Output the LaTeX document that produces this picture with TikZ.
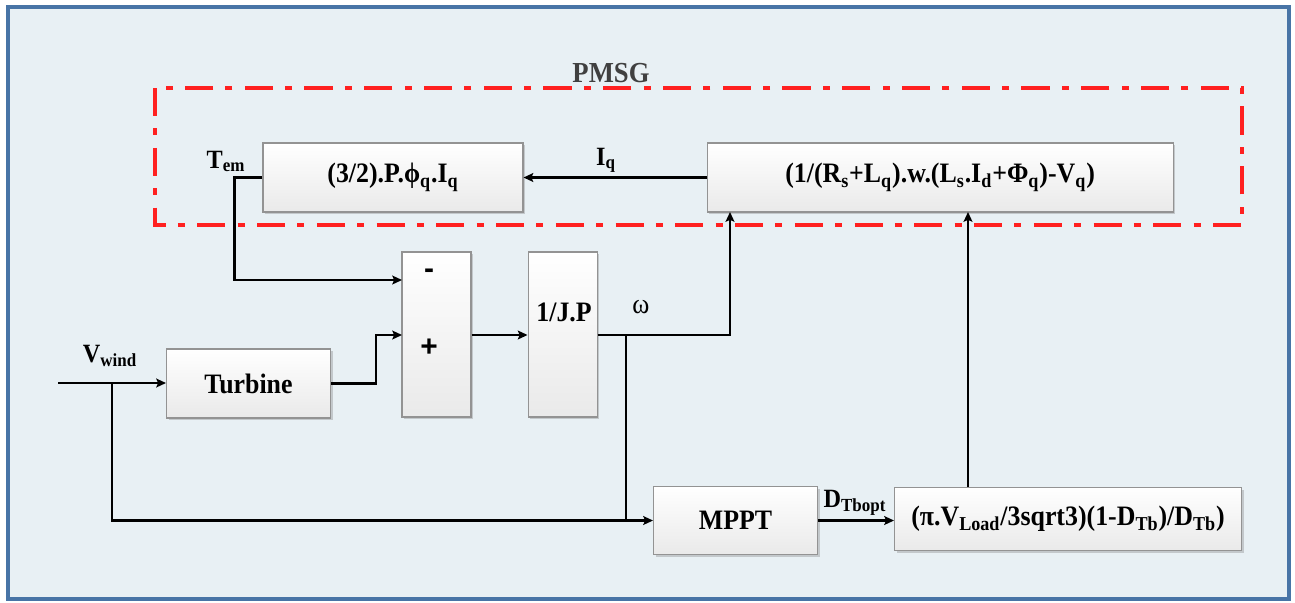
\documentclass[tikz,border=0pt]{standalone}
\usepackage{fontspec}
\setmainfont{Liberation Serif}[FakeStretch=0.92]
\newfontfamily\signfont{Liberation Sans}
\usetikzlibrary{positioning, arrows.meta, calc, shadows}
\definecolor{bgblue}{RGB}{232,240,244}
\definecolor{frameblue}{RGB}{72,116,166}
\definecolor{pmsgred}{RGB}{255,32,32}
\newcommand{\sbs}[1]{\textsubscript{#1}}
\tikzset{
  blk/.style   = {draw=gray!85, line width=0.6pt, top color=white, bottom color=gray!17,
                  inner sep=2pt, font=\fontsize{16}{18}\selectfont\bfseries,
                  drop shadow={shadow xshift=1.2pt, shadow yshift=-1.2pt, opacity=0.35}},
  ar/.style    = {-{Stealth[length=5.5pt, width=5pt, inset=1pt]}, line width=1.35pt},
  ln/.style    = {line width=1.35pt},
  lbl/.style   = {font=\fontsize{15}{17}\selectfont\bfseries, inner sep=0pt},
  sgn/.style   = {font=\fontsize{17}{19}\selectfont\signfont\bfseries, inner sep=0pt},
  pmsgbox/.style = {draw=pmsgred, line width=1.9pt,
                  dash pattern=on 16pt off 7pt on 4pt off 7pt},
}

\begin{document}
\begin{tikzpicture}[x=0.2mm, y=-0.2mm]
  \useasboundingbox (0,0) rectangle (1295,602);
  \draw[frameblue, line width=2pt, fill=bgblue] (8,7) rectangle (1289,599);
  \draw[pmsgbox] (155,88) rectangle (1242,225);
  \node[lbl, font=\fontsize{16.5}{18}\selectfont\bfseries, text=black!75, anchor=base] (pmsg) at (611,82) {PMSG};

  \node[blk, minimum width=52mm, minimum height=13.8mm] (tq) at (393,177.5)
    {(3/2).P.ϕ\sbs{q}.I\sbs{q}};
  \node[blk, minimum width=93.2mm, minimum height=13.8mm, right=36.6mm of tq] (iq)
    {(1/(R\sbs{s}+L\sbs{q}).w.(L\sbs{s}.I\sbs{d}+Φ\sbs{q})-V\sbs{q})};
  \node[blk, minimum width=13.8mm, minimum height=33mm] (sum) at (436.5,334.5) {};
  \node[blk, minimum width=13.8mm, minimum height=33mm, right=11.2mm of sum] (jp) {};
  \node[sgn] (minus) at ($(sum.north)+(-7.5,22)$) {-};
  \node[sgn] (plus)  at ($(sum.north)+(-7.5,96)$) {+};
  \node[lbl, font=\fontsize{16}{18}\selectfont\bfseries] (jptxt) at ($(jp.north)+(1.5,61)$) {1/J.P};
  \node[blk, minimum width=32.8mm, minimum height=13.8mm] (turb) at (248.5,383.5) {Turbine};
  \node[blk, minimum width=32.8mm, minimum height=13.6mm] (mppt) at (735.5,520.5) {MPPT};
  \node[blk, minimum width=69.4mm, minimum height=12.6mm] (dvc) at (1068,519)
    {(π.V\sbs{Load}/3sqrt3)(1-D\sbs{Tb})/D\sbs{Tb})};

  \node[lbl, anchor=base] (tem) at (226,168) {T\sbs{em}};
  \node[lbl, anchor=base] (iqlbl) at (606,165) {I\sbs{q}};
  \node[lbl, anchor=base] (vwind) at (110,362) {V\sbs{wind}};
  \node[lbl, font=\fontsize{16}{18}\selectfont, anchor=base] (omega) at (641,313) {ω};
  \node[lbl, anchor=base] (dopt) at (855,507) {D\sbs{Tbopt}};

  \coordinate (inM)  at (402,280);
  \coordinate (inP)  at (402,335);
  \coordinate (inB1) at (730,212);
  \coordinate (inB2) at (968,212);
  \coordinate (wtap) at (626,335);
  \coordinate (vin)  at (58,383);
  \coordinate (vtap) at (112,383);

  \draw[ar] (iq.west) -- (tq.east);
  \draw[ar] (tq.west) -- ++(-28,0) |- (inM);
  \draw[ar] (turb.east) -- ++(45,0) |- (inP);
  \draw[ar] (sum.east |- inP) -- (jp.west |- inP);
  \draw[ar] (jp.east |- inP) -| (inB1);
  \draw[ar] (vin) -- (turb.west |- vin);
  \draw[ar] (vtap) |- (mppt.west);
  \draw[ln] (wtap) -- (wtap |- mppt.west);
  \draw[ar] (mppt.east) -- (mppt.east -| dvc.west);
  \draw[ar] (inB2 |- dvc.north) -- (inB2);
\end{tikzpicture}
\end{document}
